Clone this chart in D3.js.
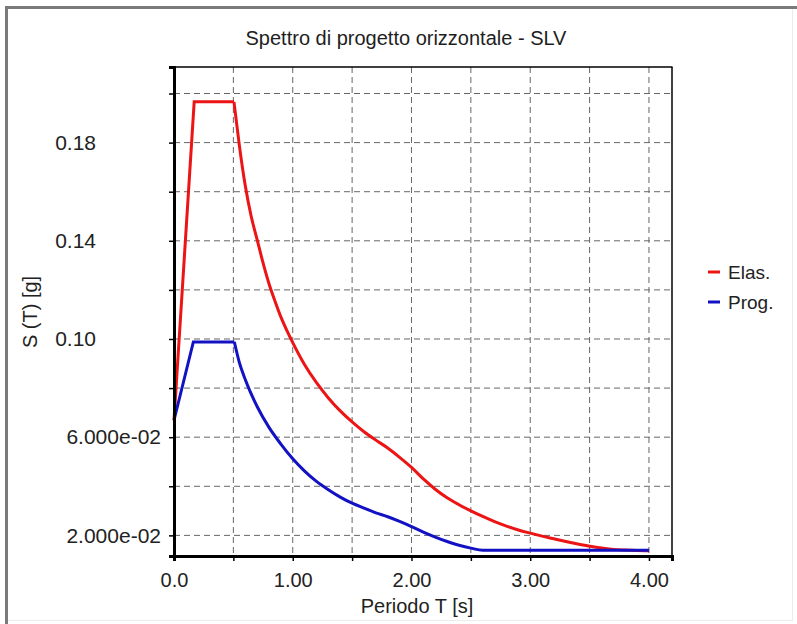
<!DOCTYPE html>
<html>
<head>
<meta charset="utf-8">
<script src="https://cdn.jsdelivr.net/npm/d3@7/dist/d3.min.js"></script>
<style>
  html, body { margin: 0; padding: 0; background: #ffffff; }
  svg { display: block; font-family: "Liberation Sans", Arial, sans-serif; }
</style>
</head>
<body>
<svg id="chart" width="797" height="624"></svg>
<script>
// ---- data ----
const chartTitle = "Spettro di progetto orizzontale - SLV";
const xTitle = "Periodo T [s]";
const yTitle = "S (T) [g]";
const seriesNames = ["Elas.", "Prog."];

// number of leading points (rise + plateau) drawn as straight segments
const elasT = [0.0, 0.17, 0.505, 0.55, 0.60, 0.65, 0.70, 0.75, 0.80, 0.85, 0.90, 0.95, 1.00,
  1.10, 1.20, 1.30, 1.40, 1.50, 1.60, 1.70, 1.80, 1.90, 2.00, 2.10, 2.20, 2.30, 2.40, 2.50,
  2.60, 2.70, 2.80, 2.90, 3.00, 3.10, 3.20, 3.30, 3.40, 3.50, 3.60, 3.70, 3.80, 3.90, 4.00];
const elasS = [0.0669, 0.1966, 0.1966, 0.1790, 0.1625, 0.1500, 0.1405, 0.1310, 0.1225, 0.1155, 0.1090, 0.1035, 0.0985,
  0.0895, 0.0822, 0.0760, 0.0707, 0.0662, 0.0622, 0.0588, 0.0556, 0.0518, 0.0477, 0.0430, 0.0388, 0.0353, 0.0325, 0.0300,
  0.0277, 0.0256, 0.0238, 0.0222, 0.0209, 0.0197, 0.0186, 0.0175, 0.0165, 0.0156, 0.0149, 0.0143, 0.0140, 0.0138, 0.0137];

const progT = [0.0, 0.163, 0.508, 0.55, 0.60, 0.70, 0.80, 0.90, 1.00, 1.10, 1.20, 1.30, 1.40, 1.50,
  1.60, 1.70, 1.80, 1.90, 2.00, 2.10, 2.20, 2.30, 2.40, 2.50, 2.60, 3.00, 3.50, 4.00];
const progS = [0.0669, 0.0988, 0.0988, 0.0905, 0.0835, 0.0725, 0.0640, 0.0572, 0.0512, 0.0462, 0.0420, 0.0386, 0.0356, 0.0331,
  0.0311, 0.0292, 0.0276, 0.0257, 0.0236, 0.0213, 0.0193, 0.0175, 0.0160, 0.0148, 0.0139, 0.0139, 0.0139, 0.0139];

const xTicks = [0, 0.5, 1.0, 1.5, 2.0, 2.5, 3.0, 3.5, 4.0];
const xTickLabels = {0: "0.0", 1: "1.00", 2: "2.00", 3: "3.00", 4: "4.00"};
const yTicks = [0.02, 0.04, 0.06, 0.08, 0.10, 0.12, 0.14, 0.16, 0.18, 0.20];
const yTickLabels = ["2.000e-02", "", "6.000e-02", "", "0.10", "", "0.14", "", "0.18", ""];
const xDomain = [0, 4.194];
const yDomain = [0.0116, 0.2108];

const colors = ["#ec1414", "#1212c4"];

// ---- layout ----
const svg = d3.select("#chart");
const L = 174, R = 672, T = 67, B = 556;

const x = d3.scaleLinear().domain(xDomain).range([L, R]);
const y = d3.scaleLinear().domain(yDomain).range([B, T]);

// outer frame (sunken window border)
svg.append("rect").attr("x", 0).attr("y", 0).attr("width", 797).attr("height", 624).attr("fill", "#ffffff");
svg.append("line").attr("x1", 6.5).attr("x2", 6.5).attr("y1", 6).attr("y2", 624).attr("stroke", "#7a7a7a").attr("stroke-width", 3);
svg.append("line").attr("x1", 5).attr("x2", 797).attr("y1", 7.5).attr("y2", 7.5).attr("stroke", "#7a7a7a").attr("stroke-width", 3);
svg.append("line").attr("x1", 792.5).attr("x2", 792.5).attr("y1", 9).attr("y2", 621).attr("stroke", "#ececec").attr("stroke-width", 1);
svg.append("line").attr("x1", 8).attr("x2", 793).attr("y1", 620.5).attr("y2", 620.5).attr("stroke", "#ececec").attr("stroke-width", 1);

// title
svg.append("text").attr("x", 406).attr("y", 45).attr("text-anchor", "middle")
  .attr("font-size", 20).attr("fill", "#1e1e1e").text(chartTitle);

// grid
const grid = svg.append("g");
grid.selectAll("line.gx").data(xTicks.filter(d => d > 0)).join("line")
  .attr("x1", d => x(d)).attr("x2", d => x(d)).attr("y1", T).attr("y2", B)
  .attr("stroke", "#666").attr("stroke-width", 1).attr("stroke-dasharray", "6,4");
grid.selectAll("line.gy").data(yTicks).join("line")
  .attr("x1", L).attr("x2", R).attr("y1", d => y(d)).attr("y2", d => y(d))
  .attr("stroke", "#666").attr("stroke-width", 1).attr("stroke-dasharray", "6,4");

// top and right frame
svg.append("line").attr("x1", L).attr("x2", R + 0.5).attr("y1", T).attr("y2", T).attr("stroke", "#000").attr("stroke-width", 1.5);
svg.append("line").attr("x1", R).attr("x2", R).attr("y1", T).attr("y2", B).attr("stroke", "#000").attr("stroke-width", 1.5);

// series: rise + plateau straight, decay smoothed
function drawSeries(ts, vs, color) {
  const pts = ts.map((t, i) => [t, vs[i]]);
  const straight = d3.line().x(d => x(d[0])).y(d => y(d[1]));
  const smooth = d3.line().curve(d3.curveMonotoneX).x(d => x(d[0])).y(d => y(d[1]));
  svg.append("path").datum(pts.slice(0, 3)).attr("d", straight).attr("fill", "none")
    .attr("stroke", color).attr("stroke-width", 3).attr("stroke-linejoin", "miter");
  svg.append("path").datum(pts.slice(2)).attr("d", smooth).attr("fill", "none")
    .attr("stroke", color).attr("stroke-width", 3).attr("stroke-linejoin", "round");
}
drawSeries(elasT, elasS, colors[0]);
drawSeries(progT, progS, colors[1]);

// axes
const xAxis = d3.axisBottom(x).tickValues(xTicks).tickSize(5).tickPadding(12)
  .tickFormat(d => xTickLabels[d] !== undefined ? xTickLabels[d] : "");
const gx = svg.append("g").attr("transform", `translate(0,${B})`).call(xAxis);
gx.select(".domain").attr("stroke", "#000").attr("stroke-width", 3);
gx.selectAll(".tick line").attr("stroke", "#000").attr("stroke-width", 1.5);
gx.selectAll(".tick text").attr("font-size", 20).attr("fill", "#222")
  .attr("font-family", "Liberation Sans, Arial, sans-serif");

const yAxis = d3.axisLeft(y).tickValues(yTicks).tickSize(5).tickPadding(8)
  .tickFormat((d, i) => yTickLabels[i]);
const gy = svg.append("g").attr("transform", `translate(${L},0)`).call(yAxis);
gy.select(".domain").attr("stroke", "#000").attr("stroke-width", 3);
gy.selectAll(".tick line").attr("stroke", "#000").attr("stroke-width", 1.5);
gy.selectAll(".tick text").attr("font-size", 21).attr("fill", "#222")
  .attr("font-family", "Liberation Sans, Arial, sans-serif")
  .attr("x", function () { return this.textContent.length > 5 ? -13 : -78; });

// axis titles
svg.append("text").attr("x", 417).attr("y", 613).attr("text-anchor", "middle")
  .attr("font-size", 20).attr("fill", "#222").text(xTitle);
svg.append("text").attr("transform", "translate(37,312) rotate(-90)").attr("text-anchor", "middle")
  .attr("font-size", 20).attr("fill", "#222").text(yTitle);

// legend
const legend = svg.append("g");
seriesNames.forEach((name, i) => {
  const ly = 272 + i * 30;
  legend.append("line").attr("x1", 708).attr("x2", 720).attr("y1", ly).attr("y2", ly)
    .attr("stroke", colors[i]).attr("stroke-width", 3);
  legend.append("text").attr("x", 728).attr("y", ly + 7).attr("font-size", 19)
    .attr("fill", "#222").text(name);
});
</script>
</body>
</html>
